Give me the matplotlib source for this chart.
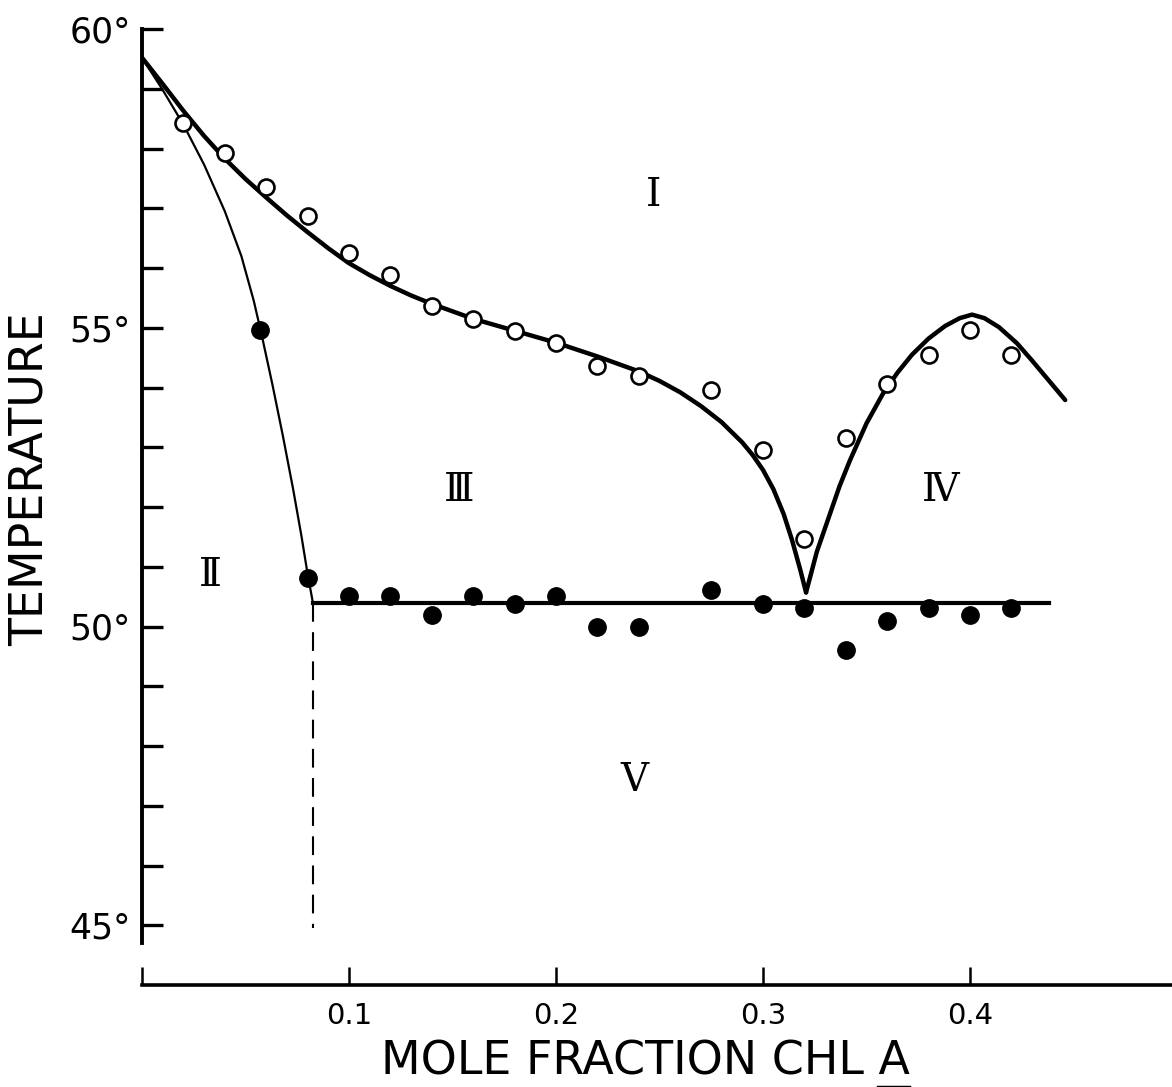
import matplotlib
matplotlib.use("Agg")
import matplotlib.pyplot as plt
from matplotlib.lines import Line2D

# open circles: upper transition (I boundary)
open_x = [0.02, 0.04, 0.06, 0.08, 0.10, 0.12, 0.14, 0.16, 0.18, 0.20,
          0.22, 0.24, 0.275, 0.30, 0.32, 0.34, 0.36, 0.38, 0.40, 0.42]
open_t = [58.43, 57.92, 57.35, 56.87, 56.25, 55.88, 55.36, 55.14, 54.94, 54.74,
          54.36, 54.19, 53.96, 52.95, 51.46, 53.15, 54.06, 54.54, 54.96, 54.54]

# filled circles: lower transition
fill_x = [0.057, 0.08, 0.10, 0.12, 0.14, 0.16, 0.18, 0.20, 0.22, 0.24,
          0.275, 0.30, 0.32, 0.34, 0.36, 0.38, 0.40, 0.42]
fill_t = [54.96, 50.81, 50.51, 50.51, 50.19, 50.51, 50.37, 50.51, 49.99, 49.99,
          50.61, 50.37, 50.31, 49.60, 50.09, 50.31, 50.19, 50.31]

# drawn boundary curves
upper_x = [0.0, 0.01, 0.02, 0.03, 0.04, 0.05, 0.06, 0.07, 0.08, 0.09, 0.10,
           0.11, 0.12, 0.13, 0.14, 0.16, 0.18, 0.20, 0.22, 0.24, 0.25, 0.26,
           0.27, 0.28, 0.29, 0.295, 0.30, 0.305, 0.31, 0.314, 0.318, 0.3208]
upper_t = [59.52, 59.08, 58.63, 58.21, 57.83, 57.49, 57.18, 56.88, 56.60, 56.33, 56.08,
           55.88, 55.70, 55.54, 55.40, 55.15, 54.95, 54.75, 54.52, 54.27, 54.11, 53.92,
           53.69, 53.42, 53.08, 52.87, 52.62, 52.30, 51.88, 51.45, 50.95, 50.57]
right_x = [0.3208, 0.326, 0.332, 0.337, 0.342, 0.35, 0.358, 0.365, 0.372,
           0.38, 0.388, 0.395, 0.401, 0.407, 0.414, 0.4227, 0.43, 0.438, 0.446]
right_t = [50.57, 51.25, 51.85, 52.35, 52.78, 53.40, 53.90, 54.25, 54.55,
           54.82, 55.03, 55.16, 55.22, 55.16, 55.01, 54.74, 54.45, 54.12, 53.79]
left_x = [0.0, 0.01, 0.02, 0.03, 0.04, 0.048, 0.054, 0.058, 0.063,
          0.068, 0.073, 0.077, 0.080, 0.0826]
left_t = [59.52, 58.98, 58.40, 57.73, 56.95, 56.20, 55.45, 54.85, 54.05,
          53.20, 52.30, 51.52, 50.88, 50.39]
eutectic_t = 50.39
eutectic_x = [0.0826, 0.438]
dash_t = [50.39, 44.95]

region_labels = ["Ⅰ", "Ⅱ", "Ⅲ", "Ⅳ", "Ⅴ"]
region_x = [0.247, 0.0329, 0.153, 0.386, 0.2377]
region_t = [57.22, 50.86, 52.28, 52.28, 47.43]

W, H = 1172, 1087
fig = plt.figure(figsize=(W / 100, H / 100), dpi=100)
ax = fig.add_axes([142 / W, 1 - 985 / H, (W - 142) / W, 956 / H])

ax.plot(upper_x, upper_t, color="black", lw=3.2, solid_capstyle="round",
        solid_joinstyle="round")
ax.plot(right_x, right_t, color="black", lw=3.2, solid_capstyle="round",
        solid_joinstyle="round")
ax.plot(left_x, left_t, color="black", lw=1.6, solid_joinstyle="round")
ax.plot(eutectic_x, [eutectic_t, eutectic_t], color="black", lw=3.0)
ax.plot([eutectic_x[0], eutectic_x[0]], dash_t, color="black", lw=1.5,
        dashes=(9, 5))

ax.plot(open_x, open_t, "o", ms=11.5, mfc="white", mec="black", mew=1.9, zorder=5)
ax.plot(fill_x, fill_t, "o", ms=12.5, mfc="black", mec="black", zorder=5)

for lab, x, t in zip(region_labels, region_x, region_t):
    ax.text(x, t, lab, ha="center", va="center", fontsize=28,
            family=["DejaVu Serif", "DejaVu Sans", "Noto Sans CJK JP"])

ax.set_xlim(0, (W - 142) / 2070)
ax.set_ylim(44, 60)

for s in ["top", "right"]:
    ax.spines[s].set_visible(False)
ax.spines["left"].set_bounds(44.7, 60)
ax.spines["left"].set_linewidth(2.8)
ax.spines["bottom"].set_linewidth(2.6)

ax.set_yticks([45, 50, 55, 60])
ax.set_yticklabels(["45°", "50°", "55°", "60°"])
ax.set_yticks(range(46, 60), minor=True)
ax.tick_params(axis="y", which="both", direction="in", length=15, width=2.4,
               labelsize=25, pad=8)
ax.set_xticks([0, 0.1, 0.2, 0.3, 0.4])
ax.set_xticklabels(["", "0.1", "0.2", "0.3", "0.4"])
ax.tick_params(axis="x", direction="in", length=13, width=1.8,
               labelsize=21, pad=12)

fig.text(30 / W, 1 - 479 / H, "TEMPERATURE", rotation=90, ha="center",
         va="center", fontsize=33)
xl = fig.text(645 / W, 1 - 1062 / H, "MOLE FRACTION CHL A", ha="center",
              va="center", fontsize=33)

# underline the "A"
fig.canvas.draw()
r = fig.canvas.get_renderer()
bb = xl.get_window_extent(r)
a = fig.text(0, 0, "A", fontsize=33)
aw = a.get_window_extent(r).width
a.remove()
y_ul = (bb.y0 - 2) / H
fig.add_artist(Line2D([(bb.x1 - aw) / W, bb.x1 / W], [y_ul, y_ul],
                      color="black", lw=2.5))

fig.savefig("out.png", dpi=100)
